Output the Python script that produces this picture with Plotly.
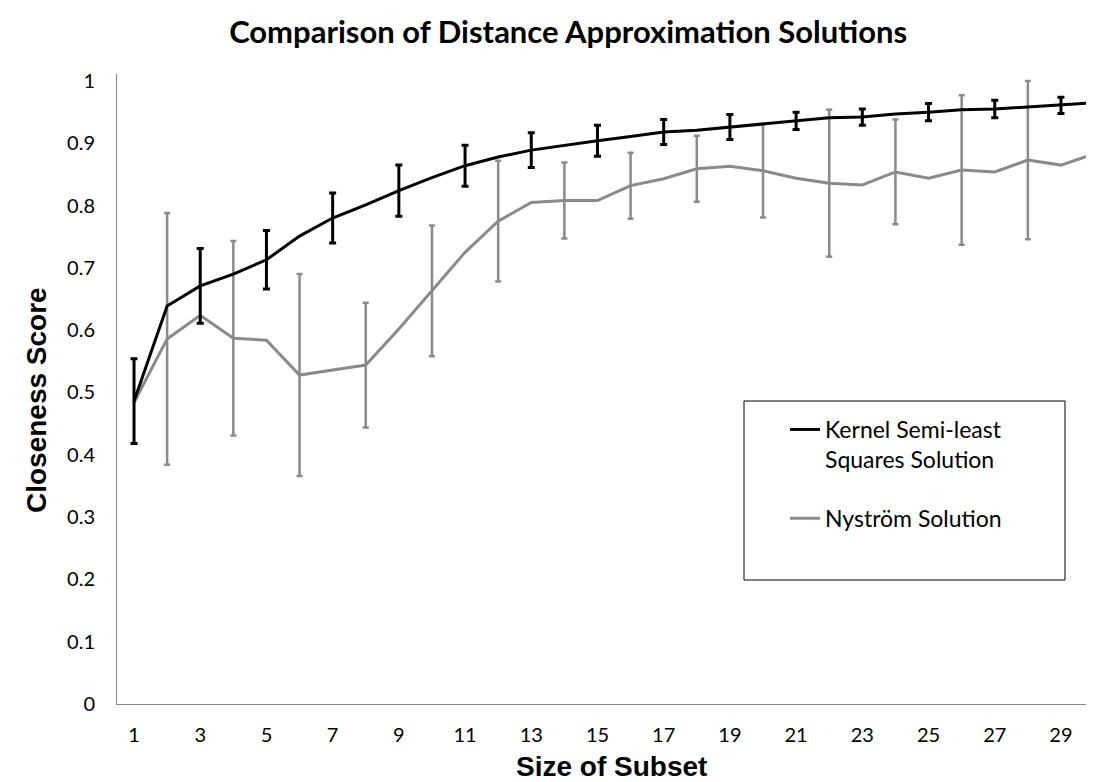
import plotly.graph_objects as go

subset_size = list(range(1, 31))
kernel_score = [0.486, 0.639, 0.671, 0.690, 0.713, 0.751, 0.780, 0.801, 0.824, 0.845,
                0.864, 0.878, 0.889, 0.897, 0.904, 0.911, 0.918, 0.921, 0.926, 0.931,
                0.936, 0.941, 0.942, 0.947, 0.950, 0.954, 0.955, 0.958, 0.961, 0.965]
nystrom_score = [0.484, 0.586, 0.624, 0.587, 0.584, 0.528, 0.536, 0.544, 0.602, 0.663,
                 0.725, 0.775, 0.805, 0.808, 0.808, 0.832, 0.843, 0.859, 0.863, 0.856,
                 0.844, 0.836, 0.833, 0.854, 0.844, 0.857, 0.854, 0.873, 0.865, 0.883]
# error bars shown on alternate points
kernel_err_x = list(range(1, 30, 2))
kernel_err = [0.068, 0.060, 0.047, 0.040, 0.041, 0.033, 0.028, 0.025, 0.020, 0.020,
              0.014, 0.013, 0.014, 0.014, 0.013]
nystrom_err_x = list(range(2, 31, 2))
nystrom_err = [0.202, 0.156, 0.162, 0.100, 0.105, 0.097, 0.061, 0.053, 0.053, 0.075,
               0.118, 0.084, 0.120, 0.127, 0.118]

x_ticks = list(range(1, 30, 2))
y_ticks = [0, 0.1, 0.2, 0.3, 0.4, 0.5, 0.6, 0.7, 0.8, 0.9, 1]
y_tick_text = ["0", "0.1", "0.2", "0.3", "0.4", "0.5", "0.6", "0.7", "0.8", "0.9", "1"]

BLACK = "#000000"
GREY = "#8a8a8a"

kernel_y_at_err = [kernel_score[subset_size.index(v)] for v in kernel_err_x]
nystrom_y_at_err = [nystrom_score[subset_size.index(v)] for v in nystrom_err_x]

fig = go.Figure()

fig.add_trace(go.Scatter(
    x=nystrom_err_x, y=nystrom_y_at_err, mode="markers",
    marker=dict(size=1, color="rgba(0,0,0,0)"),
    error_y=dict(type="data", array=nystrom_err, color=GREY, thickness=2.5, width=3),
    showlegend=False, hoverinfo="skip"))
fig.add_trace(go.Scatter(
    x=subset_size, y=nystrom_score, mode="lines", name="Nyström Solution",
    line=dict(color=GREY, width=3), legendrank=2, legendgroup="n"))
fig.add_trace(go.Scatter(
    x=kernel_err_x, y=kernel_y_at_err, mode="markers",
    marker=dict(size=1, color="rgba(0,0,0,0)"),
    error_y=dict(type="data", array=kernel_err, color=BLACK, thickness=3, width=3.5),
    showlegend=False, hoverinfo="skip"))
fig.add_trace(go.Scatter(
    x=subset_size, y=kernel_score, mode="lines",
    name="Kernel Semi-least<br>Squares Solution",
    line=dict(color=BLACK, width=3), legendrank=1, legendgroup="k"))

W, H = 1094, 782
L, R, T, B = 109, 0, 66, 86
PW, PH = W - L - R, H - T - B


def px_x(px):
    return (px - L) / PW


def px_y(py):
    return (H - B - py) / PH


fig.update_layout(
    width=W, height=H,
    margin=dict(l=L, r=R, t=T, b=B, autoexpand=False),
    paper_bgcolor="white", plot_bgcolor="white",
    font=dict(family="Lato", color="#000000"),
    title=dict(text="<b>Comparison of Distance Approximation Solutions</b>",
               font=dict(family="Lato", size=31, color="#000000"),
               x=0.512, xanchor="center", y=1 - 24 / H, yanchor="middle"),
    xaxis=dict(range=[0.486, 30.24], tickmode="array", tickvals=x_ticks,
               showgrid=False, zeroline=False, showline=True, linecolor="#868686",
               linewidth=1, ticks="", tickfont=dict(family="Lato", size=20, color="#000000"),
               ticklabelstandoff=13),
    yaxis=dict(range=[0, 1.0112], tickmode="array", tickvals=y_ticks, ticktext=y_tick_text,
               showgrid=False, zeroline=False, showline=True, linecolor="#868686",
               linewidth=1, ticks="", tickfont=dict(family="Lato", size=20, color="#000000"),
               ticklabelstandoff=17),
    legend=dict(x=px_x(777), y=px_y(400), xanchor="left", yanchor="top",
                bgcolor="rgba(0,0,0,0)", borderwidth=0,
                font=dict(family="Lato", size=23, color="#000000"),
                valign="top", tracegroupgap=26, itemwidth=30),
    shapes=[dict(type="rect", xref="paper", yref="paper",
                 x0=px_x(736), x1=px_x(1057), y0=px_y(572), y1=px_y(393),
                 line=dict(color="#000000", width=1), fillcolor="white", layer="below")],
    annotations=[
        dict(text="<b>Closeness Score</b>", xref="paper", yref="paper",
             x=px_x(29), y=px_y(392),
             xanchor="center", yanchor="middle", textangle=-90, showarrow=False,
             font=dict(family="Liberation Sans", size=28, color="#000000")),
        dict(text="<b>Size of Subset</b>", xref="paper", yref="paper",
             x=px_x(603), y=px_y(776),
             xanchor="center", yanchor="bottom", showarrow=False,
             font=dict(family="Liberation Sans", size=28, color="#000000")),
    ],
)

fig.write_html("out.html")
